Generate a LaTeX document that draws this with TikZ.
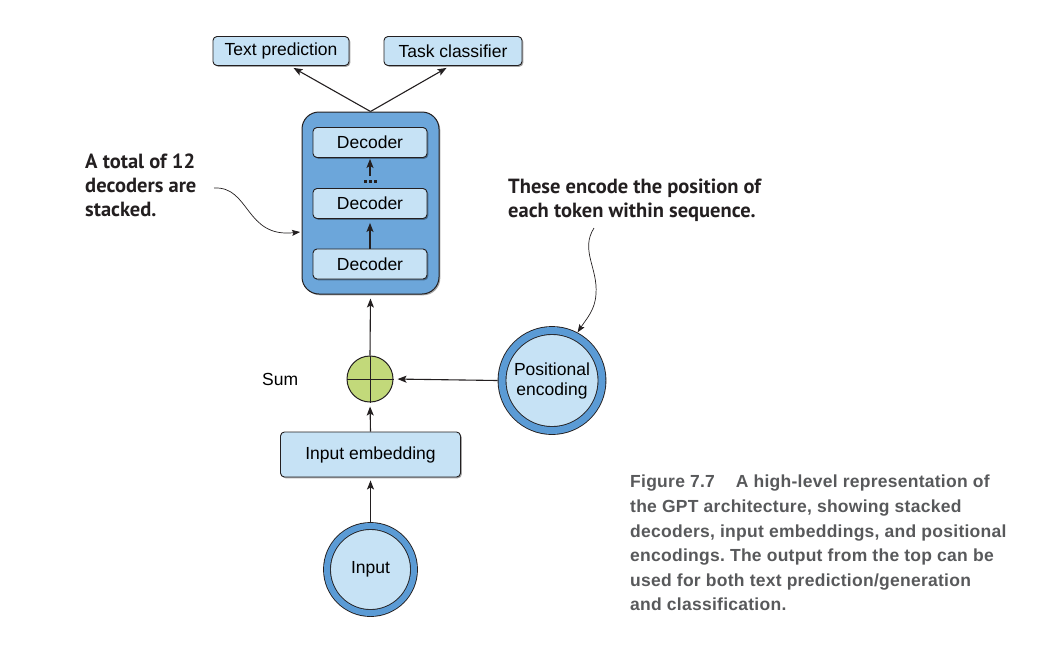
\documentclass[tikz,border=0pt]{standalone}
\usepackage{fontspec}
\setmainfont{Liberation Sans}
\newfontfamily\annfont{PT Sans}
\newfontfamily\capfont[LetterSpace=1.5]{Liberation Sans}
\usetikzlibrary{arrows.meta,shadows,calc}
\definecolor{lightfill}{HTML}{C6E2F5}
\definecolor{boxblue}{HTML}{6CA6DA}
\definecolor{ringblue}{HTML}{5B9BD5}
\definecolor{sumgreen}{HTML}{C2D97A}
\definecolor{ink}{HTML}{231F20}
\definecolor{capgray}{HTML}{58595B}
\frenchspacing
\tikzset{
  shadowed/.style={drop shadow={shadow xshift=1.3pt,shadow yshift=-1.3pt,fill=black,opacity=0.35}},
  lbox/.style={draw=ink, line width=0.9pt, fill=lightfill, rounded corners=4pt,
    font=\fontsize{17.5}{20}\selectfont, inner sep=0pt, shadowed},
  container/.style={draw=ink, line width=1pt, fill=boxblue, rounded corners=17pt, inner sep=0pt, shadowed},
  ringnode/.style={circle, draw=ink, line width=0.9pt, fill=lightfill, double=ringblue,
    inner sep=0pt, align=center, font=\fontsize{17.5}{20}\selectfont, shadowed},
  sumnode/.style={circle, draw=ink, line width=1pt, fill=sumgreen, minimum size=46pt, inner sep=0pt},
  arr/.style={-{Stealth[length=9pt,width=7pt,inset=2pt]}, line width=1.1pt, draw=ink, shorten >=4pt},
  notearr/.style={-{Stealth[length=8pt,width=6pt,inset=1.5pt]}, line width=0.7pt, draw=ink},
  annot/.style={font=\annfont\bfseries\fontsize{20.5}{24}\selectfont, text=ink, align=left, inner sep=0pt},
  captext/.style={font=\capfont\bfseries\fontsize{17.5}{24.6}\selectfont, text=capgray, align=left, inner sep=0pt},
  plain/.style={font=\fontsize{17.5}{20}\selectfont, inner sep=0pt}
}
\begin{document}
\begin{tikzpicture}[x=1pt,y=-1pt]
\useasboundingbox (0,0) rectangle (1057,662);
% output boxes
\node[lbox, minimum width=136pt, minimum height=29pt] (tp) at (281,51) {Text prediction};
\node[lbox, minimum width=138pt, minimum height=29pt] (tc) at (453,51) {Task classifier};
% decoder stack
\node[container, minimum width=137pt, minimum height=182pt] (cont) at (370.5,203) {};
\node[lbox, minimum width=114pt, minimum height=30pt] (d3) at (370,142.5) {Decoder};
\node[lbox, minimum width=114pt, minimum height=30pt] (d2) at (370,203.5) {Decoder};
\node[lbox, minimum width=114pt, minimum height=30pt] (d1) at (370,264) {Decoder};
% sum
\node[sumnode] (sum) at (370,379) {};
\draw[ink, line width=1pt] (sum.north) -- (sum.south) (sum.west) -- (sum.east);
\node[plain, anchor=west] (sumlbl) at (262,379) {Sum};
% positional encoding
\node[ringnode, minimum size=100pt, double distance=7pt, outer sep=4.5pt] (pos) at (552,380.5) {Positional\\encoding};
% input embedding
\node[lbox, minimum width=180pt, minimum height=45pt] (emb) at (370.5,454.5) {Input embedding};
% input
\node[ringnode, minimum size=87pt, double distance=6pt, outer sep=4pt] (inp) at (370.5,569.5) {Input};
% connectors
\draw[arr] (cont.north) -- ([xshift=9pt]tp.south);
\draw[arr] (cont.north) -- ([xshift=-3pt]tc.south);
\draw[arr] (d1.north) -- (d2.south);
\coordinate (dotstop) at (370,176);
\draw[arr, shorten >=1pt] (dotstop) -- (d3.south);
\fill[ink] (363.5,180) rectangle (366.5,183);
\fill[ink] (368.5,180) rectangle (371.5,183);
\fill[ink] (373.5,180) rectangle (376.5,183);
\draw[arr] (sum.north) -- (cont.south);
\draw[arr] (pos.west) -- (sum.east);
\draw[arr] (emb.north) -- (sum.south);
\draw[arr, shorten >=3pt] (inp.north) -- (emb.south);
% annotations
\node[annot, anchor=north west] (note1) at (85,154) {A total of 12\\decoders are\\stacked.};
\coordinate (n1start) at (214,188);
\coordinate (n1end) at (300,232);
\draw[notearr] (n1start) .. controls (250,186) and (245,238) .. (n1end);
\node[annot, anchor=north west] (note2) at (508,179) {These encode the position of\\each token within sequence.};
\coordinate (n2start) at (594,228);
\coordinate (n2mid) at (596,294);
\draw[notearr] (n2start) .. controls (580,250) and (598,268) .. (n2mid) .. controls (595,310) and (587,318) .. (pos.62);
% caption
\node[captext, anchor=north west] (cap) at (630,475) {Figure 7.7\hspace{0.9em} A high-level representation of\\the GPT architecture, showing stacked\\decoders, input embeddings, and positional\\encodings. The output from the top can be\\used for both text prediction/generation\\and classification.};
\end{tikzpicture}
\end{document}
